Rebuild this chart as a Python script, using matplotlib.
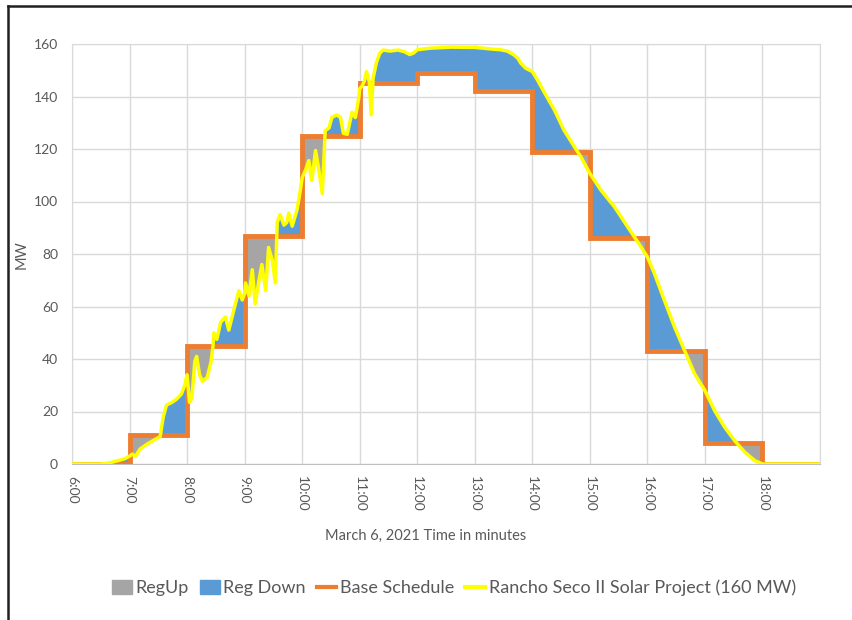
import numpy as np
import matplotlib
matplotlib.use("Agg")
import matplotlib.pyplot as plt
from matplotlib.patches import Patch
from matplotlib.lines import Line2D

plt.rcParams['font.family'] = ['Lato', 'DejaVu Sans']

# hourly base schedule, 6:00 .. 18:00 (value holds for the whole hour)
hour_labels = ["6:00", "7:00", "8:00", "9:00", "10:00", "11:00", "12:00",
               "13:00", "14:00", "15:00", "16:00", "17:00", "18:00"]
base_mw = [0, 11, 45, 87, 125, 145, 149, 142, 119, 86, 43, 8, 0]

# solar output, minutes after 6:00 and MW
solar_t = [0, 30, 40, 48, 55, 60, 63, 66, 71, 78, 85, 92, 95, 98.6, 104, 109,
           114, 117.6, 120, 122.5, 125, 128, 130, 133, 136, 141, 145, 147,
           148, 151, 155, 160, 163.5, 169, 174, 177.5, 180, 181, 184.5, 188,
           191, 195, 198, 202, 205, 209, 212, 214, 217, 221, 224, 226, 229.6,
           234.8, 238, 240, 243.5, 247, 250, 254, 257, 261, 264, 268, 271,
           276, 280, 283, 287, 292, 295.5, 299, 300, 302.5, 305, 307, 310,
           312, 314, 317.5, 321, 324.5, 331.5, 340, 347, 352, 356, 360, 373,
           395, 420, 440, 447, 454, 461, 465, 468, 473, 480, 485.4, 492, 503,
           513, 523.8, 530.7, 540, 551.6, 565.6, 579.5, 593.4, 600, 607.4,
           617.8, 628.3, 638.7, 649.2, 660, 670, 680.6, 691, 701.5, 712, 720,
           780]
solar_mw = [0, 0, 0.5, 1.3, 2, 3, 3.8, 2.8, 5.7, 7.5, 9, 10.5, 17.7, 22.5,
            23.4, 24.7, 26.6, 30, 34, 23.5, 25, 39, 41, 34, 31.5, 33, 39, 45,
            50, 47.5, 54, 56, 51, 59, 66, 62.5, 65, 69, 64, 74, 61, 70, 76, 66,
            82.5, 77.5, 69, 92, 95, 91, 92, 95.6, 90.6, 97, 104, 109, 112,
            115.6, 108, 119.4, 113, 103, 127, 128, 132, 133, 132, 126, 125.6,
            134, 132, 139.4, 143, 144, 146, 149.5, 145.7, 133, 147, 153,
            156.5, 157.7, 157.3, 157.7, 157, 156, 156.5, 157.8, 158.4, 158.8,
            158.7, 158, 157.8, 157.3, 155.8, 154.5, 152.7, 150.8, 149.5,
            146.3, 141.9, 134.9, 127.2, 120.9, 117, 110.7, 104.3, 98, 90.3,
            82.7, 78.9, 72.5, 62.3, 52.2, 43.3, 34.4, 28, 20.4, 14, 8.9, 4.5,
            1.3, 0, 0]

edges = np.arange(0, 60 * (len(base_mw) + 1), 60)

# pair every solar point with the schedule value, doubling points on hour steps
xs, ys, bs = [], [], []
for t, s in zip(solar_t, solar_mw):
    h = int(t // 60)
    if t % 60 == 0 and 0 < h < len(base_mw):
        xs += [t, t]
        ys += [s, s]
        bs += [base_mw[h - 1], base_mw[h]]
    else:
        xs.append(t)
        ys.append(s)
        bs.append(base_mw[min(h, len(base_mw) - 1)])
xs, ys, bs = np.array(xs), np.array(ys), np.array(bs)

fig = plt.figure(figsize=(8.52, 6.2), dpi=100)
ax = fig.add_axes([72 / 852, 1 - 464 / 620, 748 / 852, 420 / 620])

blue = '#5B9BD5'
gray = '#A5A5A5'
orange = '#ED7D31'
yellow = '#FFFF00'
txt = '#595959'

ax.fill_between(xs, ys, bs, where=ys >= bs, interpolate=True, color=blue, lw=0, zorder=2)
ax.fill_between(xs, ys, bs, where=ys < bs, interpolate=True, color=gray, lw=0, zorder=2)
ax.stairs(base_mw, edges, baseline=None, color=orange, lw=3.5, zorder=3)
ax.plot(solar_t, solar_mw, color=yellow, lw=2.5, zorder=4)

ax.set_xlim(0, 780)
ax.set_ylim(0, 160)
ax.set_xticks(edges[:-1])
ax.set_xticklabels(hour_labels, rotation=270, color=txt, fontsize=10)
ax.set_xticks(edges, minor=True)
ax.set_yticks(np.arange(0, 161, 20))
ax.tick_params(axis='y', labelcolor=txt, labelsize=10, length=0, pad=10)
ax.tick_params(axis='x', length=0, pad=9)
ax.grid(True, which='both', color='#D9D9D9', lw=1, zorder=0)
ax.tick_params(which='minor', length=0)
ax.set_axisbelow(True)
for sp in ax.spines.values():
    sp.set_color('#D9D9D9')
ax.spines['bottom'].set_color('#BFBFBF')

fig.text(426 / 852, 1 - 536 / 620, 'March 6, 2021 Time in minutes',
         ha='center', va='center', color=txt, fontsize=10.5)
fig.text(22 / 852, 1 - 255 / 620, 'MW', rotation=90, ha='center', va='center',
         color=txt, fontsize=10.5)

handles = [Patch(color=gray), Patch(color=blue),
           Line2D([], [], color=orange, lw=3), Line2D([], [], color=yellow, lw=3)]
labels = ['RegUp', 'Reg Down', 'Base Schedule', 'Rancho Seco II Solar Project (160 MW)']
fig.legend(handles, labels, loc='center', bbox_to_anchor=(454 / 852, 1 - 588 / 620),
           ncol=4, frameon=False, fontsize=13, handlelength=1.1, handleheight=0.8,
           handletextpad=0.2, columnspacing=0.6, labelcolor=txt)

# outer frame (top and left edges only)
fig.add_artist(Line2D([8 / 852, 1], [1 - 5.5 / 620, 1 - 5.5 / 620], color='#231F20', lw=1.8))
fig.add_artist(Line2D([8 / 852, 8 / 852], [0, 1 - 5.5 / 620], color='#231F20', lw=1.8))

fig.savefig('out.png', dpi=100)
